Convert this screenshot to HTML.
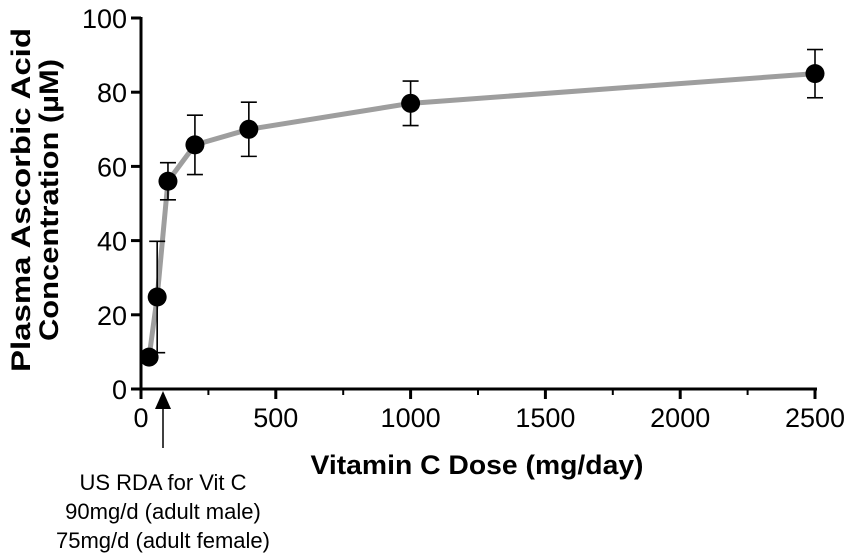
<!DOCTYPE html>
<html><head><meta charset="utf-8"><style>
html,body{margin:0;padding:0;background:#fff;}
svg{display:block;font-family:"Liberation Sans",Arial,sans-serif;}
</style></head><body>
<svg id="chart" width="851" height="558" viewBox="0 0 851 558" xmlns="http://www.w3.org/2000/svg">
<g id="axes"></g>
<g id="marks"></g>
<g font-size="27" font-weight="bold">
<text transform="translate(30,200) rotate(-90)" text-anchor="middle" textLength="344" lengthAdjust="spacingAndGlyphs">Plasma Ascorbic Acid</text>
<text transform="translate(58,200) rotate(-90)" text-anchor="middle" textLength="282" lengthAdjust="spacingAndGlyphs">Concentration (µM)</text>
</g>
<text x="477" y="474" text-anchor="middle" font-size="27" font-weight="bold" textLength="333" lengthAdjust="spacingAndGlyphs">Vitamin C Dose (mg/day)</text>
<g>
<line x1="163" y1="405" x2="163" y2="448" stroke="#000" stroke-width="1.5"/>
<polygon points="163,391 155,409 171,409" fill="#000"/>
<text x="163" y="490" text-anchor="middle" font-size="22">US RDA for Vit C</text>
<text x="163" y="519" text-anchor="middle" font-size="22">90mg/d (adult male)</text>
<text x="163" y="548" text-anchor="middle" font-size="22">75mg/d (adult female)</text>
</g>
</svg>
<script>
const doses=[30,60,100,200,400,1000,2500];
const means=[8.6,24.8,56,65.8,70,77,85];
const errs=[0,15,5,8,7.3,6,6.5];
const xTicks=[0,500,1000,1500,2000,2500];
const yTicks=[0,20,40,60,80,100];
const NS="http://www.w3.org/2000/svg";
const X0=141,X1=815,Y0=389,Y1=18;
function xs(v){return X0+(v/2500)*(X1-X0);}
function ys(v){return Y0-(v/100)*(Y0-Y1);}
function mk(tag,attrs,parent){const e=document.createElementNS(NS,tag);for(const k in attrs)e.setAttribute(k,attrs[k]);parent.appendChild(e);return e;}
const axes=document.getElementById('axes'),marks=document.getElementById('marks');
let l=mk('line',{x1:X0,y1:Y0,x2:X1+2,y2:Y0,stroke:'#000','stroke-width':3},axes);


l=mk('line',{x1:X0,y1:Y1-1,x2:X0,y2:Y0+1.5,stroke:'#000','stroke-width':3},axes);


xTicks.forEach(t=>{
 const x=xs(t);
 const tk=mk('line',{x1:x,y1:Y0,x2:x,y2:Y0+10,stroke:'#000','stroke-width':3},axes);
 
 
 if(t<2500){const m=mk('line',{x1:xs(t+250),y1:Y0,x2:xs(t+250),y2:Y0+6,stroke:'#000','stroke-width':2},axes);
 
 }
 const tx=mk('text',{x:x,y:Y0+38,'text-anchor':'middle','font-size':27},axes);tx.textContent=t;
 
 
});
yTicks.forEach(t=>{
 const y=ys(t);
 const tk=mk('line',{x1:X0-10,y1:y,x2:X0,y2:y,stroke:'#000','stroke-width':3},axes);
 
 
 const tx=mk('text',{x:X0-14,y:y+10,'text-anchor':'end','font-size':27},axes);tx.textContent=t;
 
 
});
const pts=doses.map((d,i)=>xs(d)+','+ys(means[i])).join(' ');
const pl=mk('polyline',{points:pts,fill:'none',stroke:'#9e9e9e','stroke-width':5,'stroke-linejoin':'round'},marks);


doses.forEach((d,i)=>{
 const x=xs(d),yt=ys(means[i]+errs[i]),yb=ys(means[i]-errs[i]);
 if(errs[i]>0){
  const g=mk('g',{stroke:'#000','stroke-width':1.6},marks);
  
  
  mk('line',{x1:x,y1:yt,x2:x,y2:yb},g);
  mk('line',{x1:x-8,y1:yt,x2:x+8,y2:yt},g);
  mk('line',{x1:x-8,y1:yb,x2:x+8,y2:yb},g);
 }
});
doses.forEach((d,i)=>{
 const c=mk('circle',{cx:xs(d),cy:ys(means[i]),r:9.5,fill:'#000'},marks);
 
 
});
</script>
</body></html>
